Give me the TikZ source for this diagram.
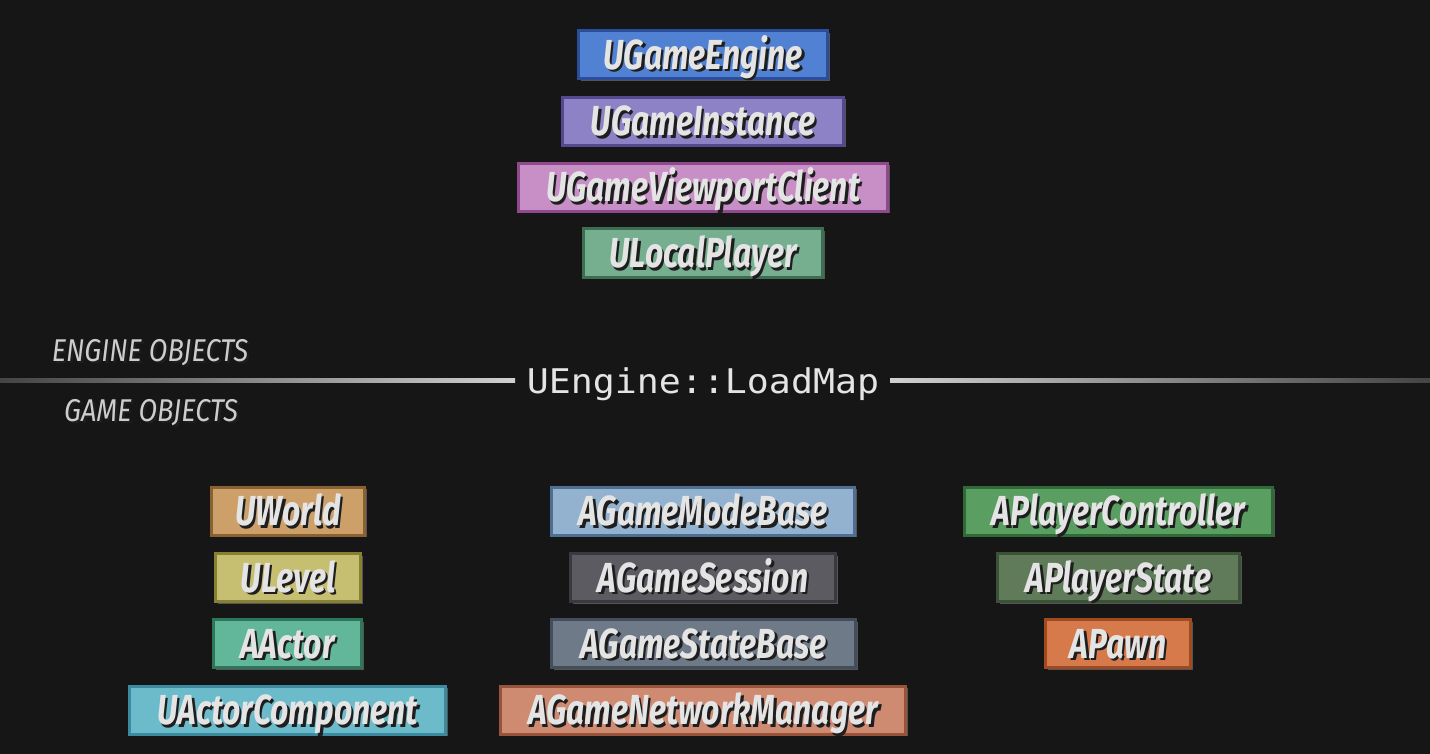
\documentclass[tikz,border=0pt]{standalone}
\usepackage{fontspec}
\usetikzlibrary{shadows}
\newfontfamily\boxfont[FakeStretch=0.76]{Fira Sans}
\newfontfamily\labelfont[FakeStretch=0.86]{Fira Sans}
\newfontfamily\monofont[FakeStretch=1.075]{DejaVu Sans Mono}
\definecolor{bg}{HTML}{161616}
\definecolor{txt}{HTML}{E4E4E4}
\definecolor{txtshadow}{HTML}{1E1E1E}
\definecolor{lineend}{HTML}{444444}
\definecolor{linemid}{HTML}{D0D0D0}
\definecolor{cEngine}{HTML}{5081D2}\definecolor{cEngineD}{HTML}{2C4E9A}
\definecolor{cInst}{HTML}{8D82C6}\definecolor{cInstD}{HTML}{54488E}
\definecolor{cView}{HTML}{C88EC6}\definecolor{cViewD}{HTML}{8E4A8C}
\definecolor{cLocal}{HTML}{76AE90}\definecolor{cLocalD}{HTML}{3E6E52}
\definecolor{cWorld}{HTML}{CDA06A}\definecolor{cWorldD}{HTML}{8A6232}
\definecolor{cLevel}{HTML}{C6BE70}\definecolor{cLevelD}{HTML}{868032}
\definecolor{cActor}{HTML}{62B79A}\definecolor{cActorD}{HTML}{2E7658}
\definecolor{cComp}{HTML}{6BBBCB}\definecolor{cCompD}{HTML}{3A8AA0}
\definecolor{cMode}{HTML}{93B2CF}\definecolor{cModeD}{HTML}{4E6E92}
\definecolor{cSess}{HTML}{5C5B62}\definecolor{cSessD}{HTML}{3A3940}
\definecolor{cState}{HTML}{6E7A88}\definecolor{cStateD}{HTML}{434E5C}
\definecolor{cNet}{HTML}{CF8A72}\definecolor{cNetD}{HTML}{96543A}
\definecolor{cPC}{HTML}{5A9E62}\definecolor{cPCD}{HTML}{2F6A38}
\definecolor{cPS}{HTML}{5F7B5A}\definecolor{cPSD}{HTML}{3A5236}
\definecolor{cPawn}{HTML}{D67A4C}\definecolor{cPawnD}{HTML}{A04A22}
\newcommand\objtxt[1]{\rlap{\kern2.5pt\raisebox{-2.5pt}{\color{txtshadow}#1}}#1}
\tikzset{
  obj/.style={rectangle, line width=3pt, minimum height=48pt, inner sep=0pt,
    text=txt, font=\boxfont\bfseries\itshape\fontsize{42}{44}\selectfont,
    text height=29pt, text depth=0pt,
    drop shadow={opacity=0.6, shadow xshift=2pt, shadow yshift=-2pt}},
  sectlabel/.style={text=txt!90!black, font=\labelfont\itshape\fontsize{31.5}{33}\selectfont,
    inner sep=0pt, text height=22pt, text depth=0pt},
}
\begin{document}
\begin{tikzpicture}[x=1pt,y=-1pt]
\fill[bg] (0,0) rectangle (1430,754);
\useasboundingbox (0,0) rectangle (1430,754);
% engine objects
\node[obj, fill=cEngine, draw=cEngineD, minimum width=249pt] (engine) at (703,55) {\objtxt{UGameEngine}};
\node[obj, fill=cInst, draw=cInstD, minimum width=281pt] (inst) at (703,121.5) {\objtxt{UGameInstance}};
\node[obj, fill=cView, draw=cViewD, minimum width=369pt] (view) at (703,187.5) {\objtxt{UGameViewportClient}};
\node[obj, fill=cLocal, draw=cLocalD, minimum width=239pt] (local) at (703,253) {\objtxt{ULocalPlayer}};
% separator
\coordinate (lineA) at (0,380);
\coordinate (lineB) at (515,380);
\coordinate (lineC) at (890,380);
\coordinate (lineD) at (1430,380);
\shade[left color=lineend, right color=linemid] ([yshift=-2pt]lineA) rectangle ([yshift=2pt]lineB);
\shade[left color=linemid, right color=lineend] ([yshift=-2pt]lineC) rectangle ([yshift=2pt]lineD);
\node[text=txt, font=\monofont\fontsize{34}{36}\selectfont, anchor=base, inner sep=0pt] (loadmap) at (703,393) {UEngine::LoadMap};
\node[sectlabel] (englabel) at (150,350) {\objtxt{ENGINE OBJECTS}};
\node[sectlabel] (gamelabel) at (151,410) {\objtxt{GAME OBJECTS}};
% game objects, left column
\node[obj, fill=cWorld, draw=cWorldD, minimum width=153pt] (world) at (288,511) {\objtxt{UWorld}};
\node[obj, fill=cLevel, draw=cLevelD, minimum width=145pt] (level) at (288,577.5) {\objtxt{ULevel}};
\node[obj, fill=cActor, draw=cActorD, minimum width=148pt] (actor) at (287.5,643.5) {\objtxt{AActor}};
\node[obj, fill=cComp, draw=cCompD, minimum width=316pt] (comp) at (287.5,710) {\objtxt{UActorComponent}};
% middle column
\node[obj, fill=cMode, draw=cModeD, minimum width=303pt] (mode) at (703,511) {\objtxt{AGameModeBase}};
\node[obj, fill=cSess, draw=cSessD, minimum width=265pt] (sess) at (703,577.5) {\objtxt{AGameSession}};
\node[obj, fill=cState, draw=cStateD, minimum width=304pt] (state) at (703.5,643.5) {\objtxt{AGameStateBase}};
\node[obj, fill=cNet, draw=cNetD, minimum width=405pt] (net) at (703,710) {\objtxt{AGameNetworkManager}};
% right column
\node[obj, fill=cPC, draw=cPCD, minimum width=308pt] (pc) at (1118.5,511) {\objtxt{APlayerController}};
\node[obj, fill=cPS, draw=cPSD, minimum width=242pt] (ps) at (1118.5,577.5) {\objtxt{APlayerState}};
\node[obj, fill=cPawn, draw=cPawnD, minimum width=145pt] (pawn) at (1118,643.5) {\objtxt{APawn}};
\end{tikzpicture}
\end{document}
